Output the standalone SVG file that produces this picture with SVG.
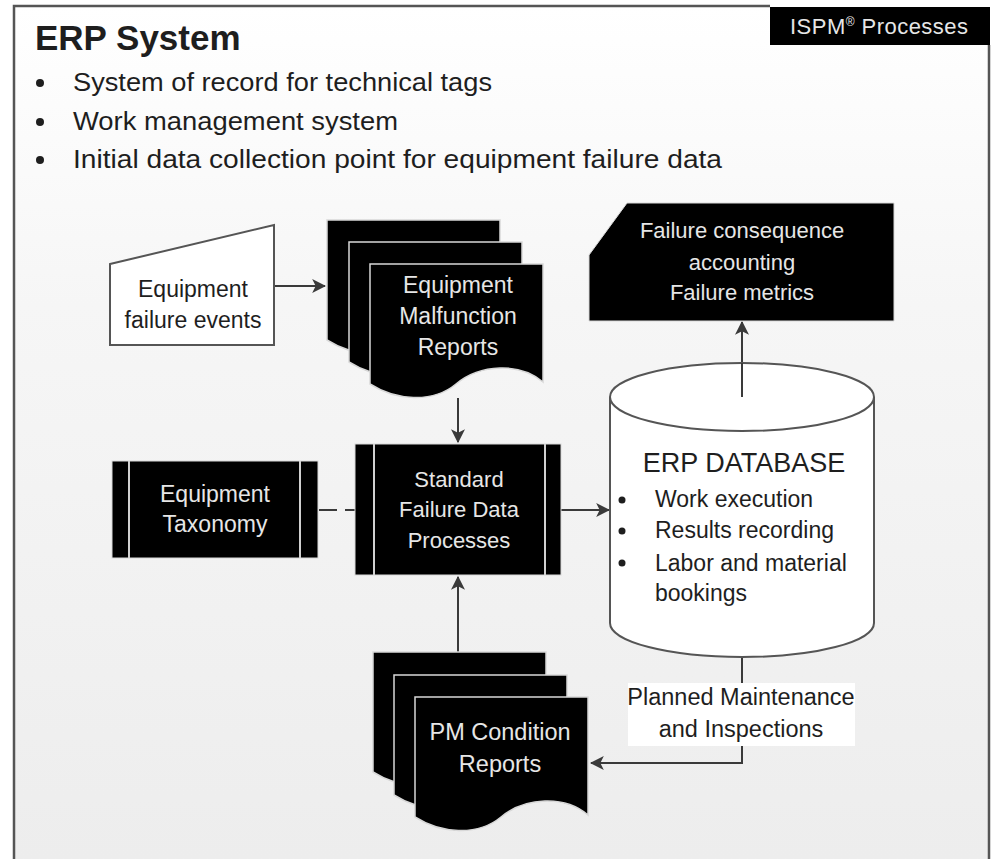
<svg xmlns="http://www.w3.org/2000/svg" width="991" height="859" viewBox="0 0 991 859">
<defs>
  <linearGradient id="bg" x1="0" y1="0" x2="0" y2="1">
    <stop offset="0" stop-color="#ffffff"/>
    <stop offset="0.35" stop-color="#f6f6f6"/>
    <stop offset="1" stop-color="#ededed"/>
  </linearGradient>
  <marker id="arrow" viewBox="0 0 12 12" refX="11" refY="6" markerWidth="14" markerHeight="14" markerUnits="userSpaceOnUse" orient="auto">
    <path d="M0,0 L12,6 L0,12 L3,6 Z" fill="#3a3a3a"/>
  </marker>
  <path id="doc" d="M0,0 H173 V118 C150,98 110,100 86,120 C62,140 25,136 0,120 Z"/>
</defs>
<style>
  .t { font-family: "Liberation Sans", Arial, sans-serif; }
  .dark { fill: #1e1e1e; }
  .light { fill: #e6e6e6; }
  .blk { fill: #000000; stroke: #d8d8d8; stroke-width: 1.5; }
  .ln { stroke: #3a3a3a; stroke-width: 2; fill: none; }
  .wl { stroke: #d0d0d0; stroke-width: 2; }
</style>

<rect x="0" y="0" width="991" height="859" fill="#ffffff"/>
<rect x="14" y="6" width="976" height="853" fill="url(#bg)"/>
<!-- frame -->
<path d="M14,859 V6 H770" fill="none" stroke="#555" stroke-width="2.5"/>
<path d="M989,45 V859" fill="none" stroke="#555" stroke-width="2.5"/>

<g id="ispm">
  <rect x="770" y="7" width="220" height="38" fill="#000"/>
  <text class="t light" x="790" y="34" font-size="22" textLength="178" lengthAdjust="spacing">ISPM<tspan font-size="12" dy="-8">®</tspan><tspan dy="8"> Processes</tspan></text>
</g>

<g id="header">
  <text class="t dark" x="35" y="50" font-size="35" font-weight="bold">ERP System</text>
  <circle cx="40" cy="83" r="4" fill="#1e1e1e"/>
  <circle cx="40" cy="122" r="4" fill="#1e1e1e"/>
  <circle cx="40" cy="160" r="4" fill="#1e1e1e"/>
  <text class="t dark" x="73" y="91" font-size="26" textLength="419" lengthAdjust="spacingAndGlyphs">System of record for technical tags</text>
  <text class="t dark" x="73" y="130" font-size="26" textLength="325" lengthAdjust="spacingAndGlyphs">Work management system</text>
  <text class="t dark" x="73" y="168" font-size="26" textLength="649" lengthAdjust="spacingAndGlyphs">Initial data collection point for equipment failure data</text>
</g>

<g id="connectors">
  <line class="ln" x1="274" y1="286" x2="325" y2="286" marker-end="url(#arrow)"/>
  <line class="ln" x1="458" y1="398" x2="458" y2="442" marker-end="url(#arrow)"/>
  <path class="ln" d="M319,510 H337 M345,510 H355"/>
  <line class="ln" x1="561" y1="510" x2="609" y2="510" marker-end="url(#arrow)"/>
  <line class="ln" x1="742" y1="396" x2="742" y2="322" marker-end="url(#arrow)"/>
  <line class="ln" x1="458" y1="652" x2="458" y2="577" marker-end="url(#arrow)"/>
  <path class="ln" d="M742,657 V763 H591" marker-end="url(#arrow)"/>
</g>

<g id="failure-events">
  <path d="M110,264 L274,225 V345 H110 Z" fill="#ffffff" stroke="#555" stroke-width="2"/>
  <text class="t dark" x="193" y="297" font-size="23" text-anchor="middle">Equipment</text>
  <text class="t dark" x="193" y="328" font-size="23" text-anchor="middle">failure events</text>
</g>

<g id="malfunction-reports">
  <use href="#doc" x="327" y="220" class="blk"/>
  <use href="#doc" x="349" y="242" class="blk"/>
  <use href="#doc" x="370" y="264" class="blk"/>
  <text class="t light" x="458" y="293" font-size="23" text-anchor="middle">Equipment</text>
  <text class="t light" x="458" y="324" font-size="23" text-anchor="middle">Malfunction</text>
  <text class="t light" x="458" y="355" font-size="23" text-anchor="middle">Reports</text>
</g>

<g id="failure-consequence">
  <path d="M627,203 H894 V321 H589 V255 Z" fill="#000" stroke="#d8d8d8" stroke-width="1"/>
  <text class="t light" x="742" y="238" font-size="22" text-anchor="middle">Failure consequence</text>
  <text class="t light" x="742" y="270" font-size="22" text-anchor="middle">accounting</text>
  <text class="t light" x="742" y="300" font-size="22" text-anchor="middle">Failure metrics</text>
</g>

<g id="taxonomy">
  <rect x="112" y="461" width="206" height="97" fill="#000" stroke="#d8d8d8" stroke-width="1"/>
  <line class="wl" x1="129" y1="461" x2="129" y2="558"/>
  <line class="wl" x1="300" y1="461" x2="300" y2="558"/>
  <text class="t light" x="215" y="502" font-size="23" text-anchor="middle">Equipment</text>
  <text class="t light" x="215" y="532" font-size="23" text-anchor="middle">Taxonomy</text>
</g>

<g id="standard-processes">
  <rect x="355" y="444" width="206" height="131" fill="#000" stroke="#d8d8d8" stroke-width="1"/>
  <line class="wl" x1="374" y1="444" x2="374" y2="575"/>
  <line class="wl" x1="545" y1="444" x2="545" y2="575"/>
  <text class="t light" x="459" y="487" font-size="22" text-anchor="middle">Standard</text>
  <text class="t light" x="459" y="517" font-size="22" text-anchor="middle">Failure Data</text>
  <text class="t light" x="459" y="548" font-size="22" text-anchor="middle">Processes</text>
</g>

<g id="erp-database">
  <path d="M610,397 V623 A132,34 0 0 0 874,623 V397" fill="#ffffff" stroke="#555" stroke-width="2"/>
  <ellipse cx="742" cy="397" rx="132" ry="34" fill="#ffffff" stroke="#555" stroke-width="2"/>
  <line class="ln" x1="742" y1="363" x2="742" y2="397"/>
  <text class="t dark" x="744" y="472" font-size="27" text-anchor="middle">ERP DATABASE</text>
  <circle cx="622" cy="500" r="3.5" fill="#1e1e1e"/>
  <circle cx="622" cy="531" r="3.5" fill="#1e1e1e"/>
  <circle cx="622" cy="563" r="3.5" fill="#1e1e1e"/>
  <text class="t dark" x="655" y="507" font-size="23">Work execution</text>
  <text class="t dark" x="655" y="538" font-size="23">Results recording</text>
  <text class="t dark" x="655" y="571" font-size="23">Labor and material</text>
  <text class="t dark" x="655" y="601" font-size="23">bookings</text>
</g>

<g id="pm-label">
  <rect x="628" y="683" width="227" height="63" fill="#ffffff"/>
  <text class="t dark" x="741" y="705" font-size="23.5" text-anchor="middle">Planned Maintenance</text>
  <text class="t dark" x="741" y="737" font-size="23.5" text-anchor="middle">and Inspections</text>
</g>

<g id="pm-reports">
  <use href="#doc" x="373" y="652" class="blk"/>
  <use href="#doc" x="394" y="675" class="blk"/>
  <use href="#doc" x="415" y="697" class="blk"/>
  <text class="t light" x="500" y="740" font-size="23.5" text-anchor="middle">PM Condition</text>
  <text class="t light" x="500" y="772" font-size="23.5" text-anchor="middle">Reports</text>
</g>
</svg>
